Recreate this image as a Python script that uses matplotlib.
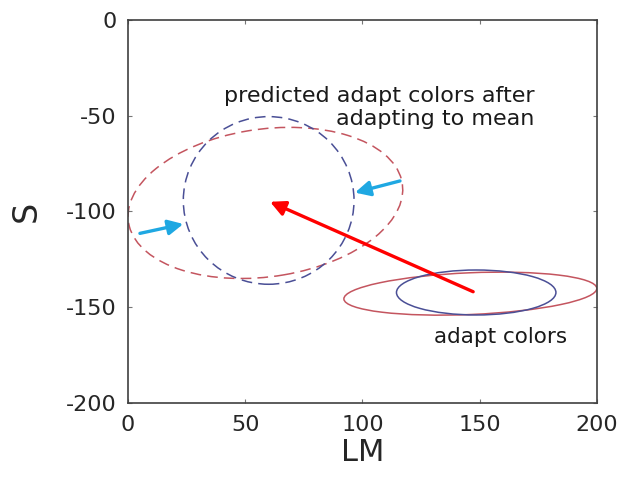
import matplotlib.pyplot as plt
from matplotlib.patches import Ellipse

plt.rcParams['axes.unicode_minus'] = False

# axis ticks
lm_ticks = [0, 50, 100, 150, 200]
s_ticks = [-200, -150, -100, -50, 0]

# ellipses: (center_lm, center_s, width, height, angle)
adapt_red = (146.0, -143.0, 108.0, 21.8, 3.0)
adapt_blue = (148.5, -142.4, 68.0, 23.5, 0.0)
pred_red = (58.6, -95.6, 118.6, 76.8, 11.8)
pred_blue = (60.0, -94.3, 72.8, 87.6, 0.0)

# arrows: (start, tip)
shift_arrow = ((147.2, -142.0), (60.6, -95.0))
squeeze_arrows = [((5.1, -111.5), (23.6, -106.6)),
                  ((116.0, -84.1), (96.8, -90.2))]

red_col = '#c4555f'
blue_col = '#4a4f96'
cyan_col = '#1fa8e2'

fig = plt.figure(figsize=(6.27, 4.82), dpi=100)
ax = fig.add_axes([0.2041, 0.1645, 0.748, 0.794])


def add_ellipse(params, color, ls):
    cx, cy, w, h, ang = params
    ax.add_patch(Ellipse((cx, cy), w, h, angle=ang, fill=False, edgecolor=color, lw=1.1, linestyle=ls))


add_ellipse(adapt_red, red_col, '-')
add_ellipse(adapt_blue, blue_col, '-')
add_ellipse(pred_red, red_col, (0, (7, 4)))
add_ellipse(pred_blue, blue_col, (0, (7, 4)))

start, tip = shift_arrow
ax.annotate('', xy=tip, xytext=start,
            arrowprops=dict(arrowstyle='-|>,head_length=0.6,head_width=0.3', color='red', lw=2.4,
                            mutation_scale=15, shrinkA=0, shrinkB=0))
for start, tip in squeeze_arrows:
    ax.annotate('', xy=tip, xytext=start,
                arrowprops=dict(arrowstyle='-|>,head_length=0.6,head_width=0.3', color=cyan_col, lw=2.4,
                                mutation_scale=15, shrinkA=0, shrinkB=0))

ax.text(173.5, -42.7, 'predicted adapt colors after', ha='right', va='baseline', fontsize=16, color='#1a1a1a')
ax.text(173.5, -54.9, 'adapting to mean', ha='right', va='baseline', fontsize=16, color='#1a1a1a')
ax.text(159.0, -169.0, 'adapt colors', ha='center', va='baseline', fontsize=15.5, color='#1a1a1a')

ax.set_xlim(0, 200)
ax.set_ylim(-200, 0)
ax.set_xticks(lm_ticks)
ax.set_yticks(s_ticks)
ax.tick_params(direction='in', length=3, width=0.8, color='#777777', labelsize=16,
               labelcolor='#262626', top=True, right=True)
ax.tick_params(axis='x', pad=9)
ax.tick_params(axis='y', pad=8)
for sp in ax.spines.values():
    sp.set_color('#404040')
    sp.set_linewidth(1.2)

ax.set_xlabel('LM', fontsize=22, color='#262626', labelpad=2)
ax.set_ylabel('S', fontsize=24, color='#262626', labelpad=17)

fig.savefig('out.png', dpi=100)
